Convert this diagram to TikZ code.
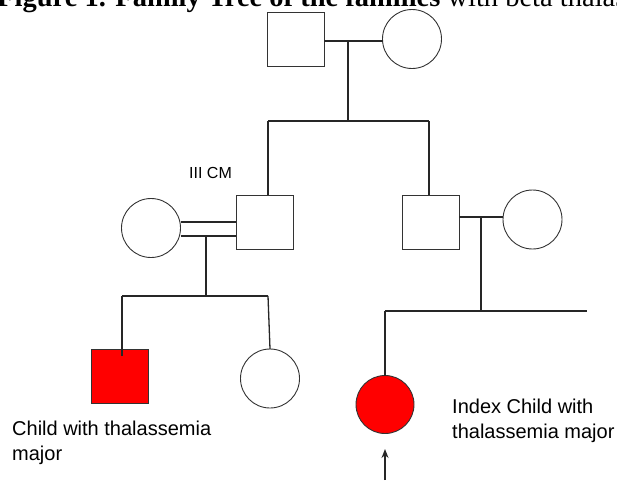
\documentclass[tikz,border=0pt]{standalone}
\usepackage{fontspec}
\usetikzlibrary{arrows.meta}
\setmainfont{Liberation Serif}
\newfontfamily\arialf{Liberation Sans}
\tikzset{x=1pt,y=-1pt,
  ln/.style={line width=1.3pt,black!85},
  sym/.style={draw=black!80,line width=0.9pt,inner sep=0pt,outer sep=0pt},
  male/.style={sym,rectangle,minimum width=57pt,minimum height=54pt},
  female/.style={sym,circle,minimum size=59pt},
  lbl/.style={font=\arialf\fontsize{20}{25}\selectfont,align=left,inner sep=0pt}
}
\begin{document}
\begin{tikzpicture}
\useasboundingbox (0,0) rectangle (617,480);
\begin{scope}
\clip (0,0) rectangle (617,480);
\node[anchor=base west,inner sep=0pt,font=\fontsize{28.5}{32}\selectfont] (title) at (-3,6) {\textbf{Figure 1. Family Tree of the families} with beta thalassemia};
\end{scope}
% generation I
\node[male] (gf) at (295.5,39) {};
\node[female,minimum height=59pt] (gm) at (412,39) {};
\coordinate (m1) at (348,41);
\draw[ln] (gf.east |- m1) -- (gm.west |- m1);
\coordinate (s1) at (348,121);
\draw[ln] (m1) -- (s1);
\coordinate (s1l) at (268,121);
\coordinate (s1r) at (429,121);
\draw[ln] (s1l) -- (s1r);
% generation II
\node[male] (cm) at (264.5,222) {};
\node[female] (cw) at (151,228) {};
\node[male] (rm) at (430.5,222) {};
\node[female] (rw) at (532.5,219.5) {};
\draw[ln] (s1l) -- (s1l |- cm.north);
\draw[ln] (s1r) -- (s1r |- rm.north);
\node[font=\arialf\fontsize{16}{19}\selectfont,inner sep=0pt] (iii) at (210.5,172.5) {III CM};
% consanguineous marriage
\coordinate (dm1) at (181,222);
\coordinate (dm2) at (181,236);
\draw[ln] (cw.east |- dm1) -- (cm.west |- dm1);
\draw[ln] (cw.east |- dm2) -- (cm.west |- dm2);
\coordinate (m2) at (206,236);
\coordinate (s2) at (206,296);
\draw[ln] (m2) -- (s2);
\coordinate (s2l) at (122,296);
\coordinate (s2r) at (268,296);
\draw[ln] (s2l) -- (s2r);
% right marriage
\coordinate (m3) at (481,217);
\draw[ln] (rm.east |- m3) -- (rw.west |- m3);
\coordinate (s3) at (481,311);
\draw[ln] (m3) -- (s3);
\coordinate (s3l) at (385,311);
\coordinate (s3r) at (587,311);
\draw[ln] (s3l) -- (s3r);
% generation III
\node[male,fill=red] (c1) at (120,376) {};
\node[female,minimum height=59pt] (c2) at (270,378.5) {};
\node[female,fill=red,minimum size=58pt] (ix) at (385,404.5) {};
\draw[ln] (s2l) -- (122,356);
\draw[ln] (s2r) -- (c2.north);
\draw[ln] (s3l) -- (ix.north);
% labels
\node[lbl,anchor=base west] (l1) at (12,460) {Child with thalassemia\\major};
\node[lbl,anchor=base west] (l2) at (452,438) {Index Child with\\thalassemia major};
% proband arrow
\coordinate (arrbot) at (385,480);
\draw[ln,-{Stealth[length=9pt,width=7pt]}] (arrbot) -- (385,449);
\end{tikzpicture}
\end{document}
